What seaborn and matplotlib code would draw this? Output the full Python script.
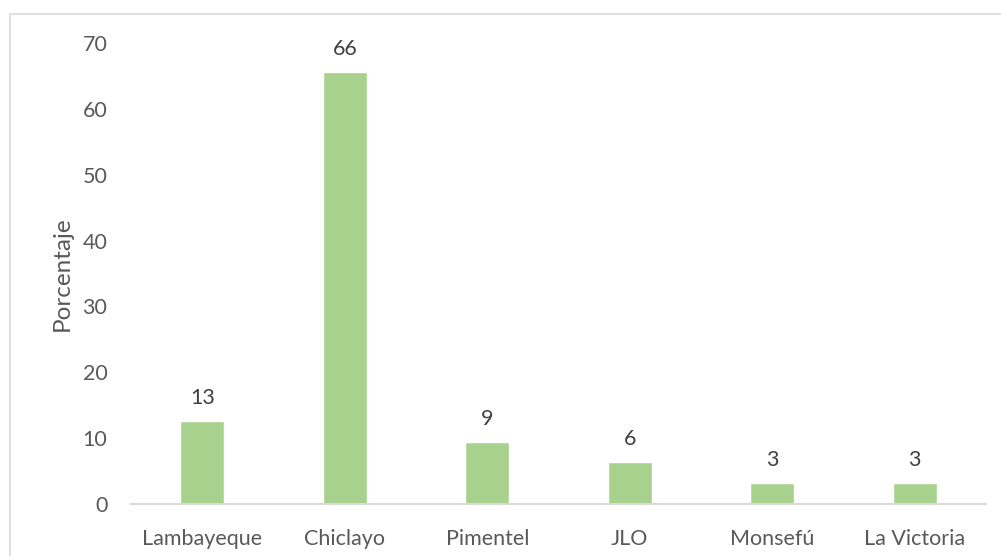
import matplotlib
matplotlib.use("Agg")
import matplotlib.pyplot as plt
import seaborn as sns
import pandas as pd
from matplotlib.patches import Rectangle

categories = ["Lambayeque", "Chiclayo", "Pimentel", "JLO", "Monsefú", "La Victoria"]
values = [12.5, 65.6, 9.4, 6.25, 3.1, 3.1]
labels = ["13", "66", "9", "6", "3", "3"]
yticks = [0, 10, 20, 30, 40, 50, 60, 70]

sns.set_theme(style="white")
plt.rcParams['font.family'] = ['Lato', 'DejaVu Sans']

df = pd.DataFrame({"cat": categories, "val": values})

fig = plt.figure(figsize=(10.01, 5.56), dpi=100)
ax = fig.add_axes([0.1309, 0.0944, 0.985 - 0.1309, 0.9218 - 0.0944])

sns.barplot(data=df, x="cat", y="val", color="#A9D18E", width=0.31,
            saturation=1, ax=ax)

for i, (v, lab) in enumerate(zip(values, labels)):
    ax.text(i, v + 2.0, lab, ha="center", va="bottom", fontsize=15.5,
            color="#404040")

ax.set_xlim(-0.5, len(categories) - 0.5)
ax.set_ylim(0, 70)
ax.set_yticks(yticks)
ax.set_xlabel("")
ax.set_ylabel("Porcentaje", fontsize=17.5, color="#595959", labelpad=7)
ax.tick_params(axis="both", length=0, labelsize=15.5, labelcolor="#595959")
ax.tick_params(axis="y", pad=17)
ax.tick_params(axis="x", pad=18)

for s in ["top", "right", "left"]:
    ax.spines[s].set_visible(False)
ax.spines["bottom"].set_color("#D9D9D9")
ax.spines["bottom"].set_linewidth(1.5)

fig.patches.append(Rectangle((10 / 1001, -0.1), 1.2, (556 - 14) / 556 + 0.1,
                             transform=fig.transFigure, fill=False,
                             edgecolor="#D9D9D9", linewidth=1.2))

fig.savefig("out.png", dpi=100)
